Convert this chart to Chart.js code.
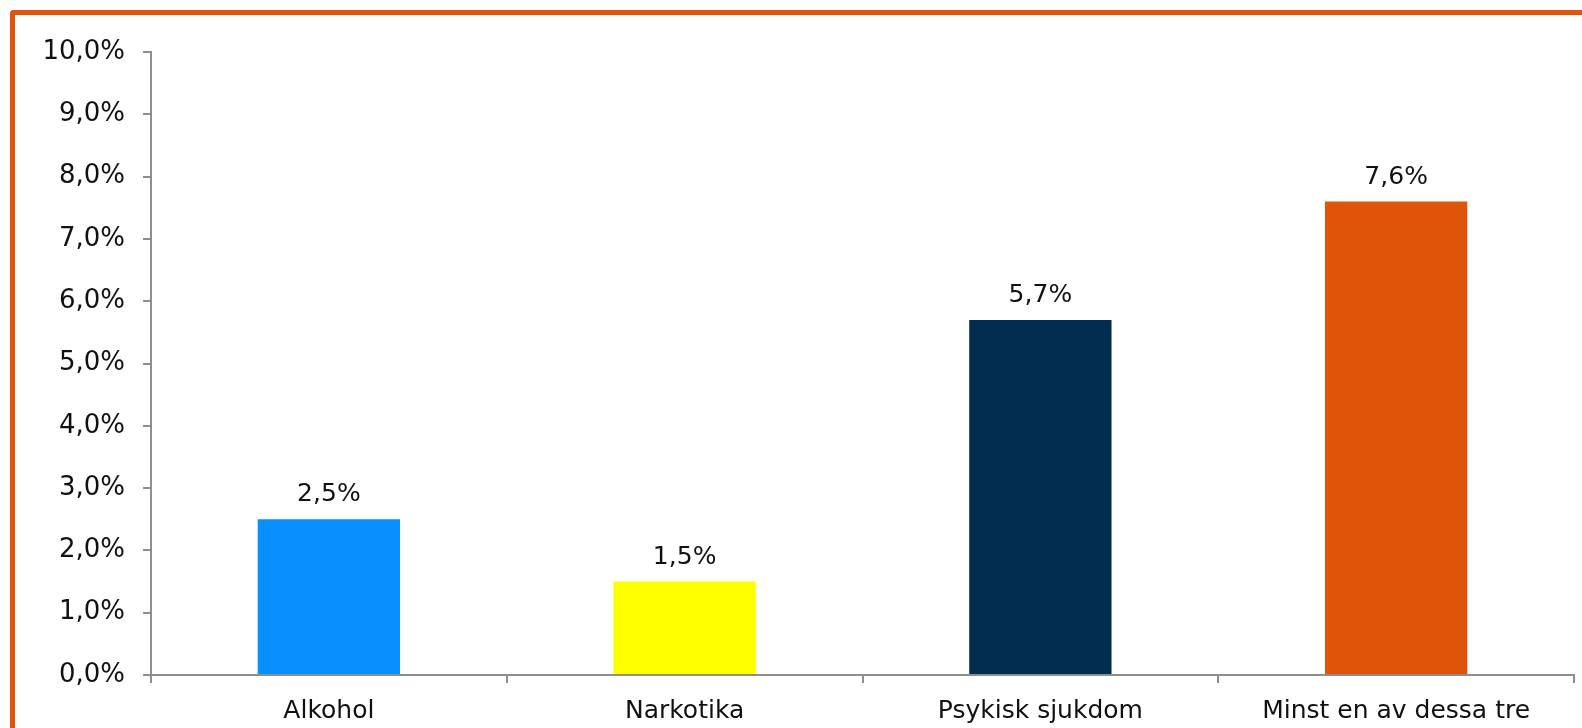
<!DOCTYPE html>
<html>
<head>
<meta charset="utf-8">
<script src="https://cdn.jsdelivr.net/npm/chart.js@4/dist/chart.umd.min.js"></script>
<style>
  html, body { margin: 0; padding: 0; background: #fff; overflow: hidden; }
  #wrap { position: relative; width: 1582px; height: 728px; }
  #frame { position: absolute; left: 10px; top: 10px; width: 1600px; height: 760px;
           border-left: 5px solid #E0540A; border-top: 5px solid #E0540A;
           border-top-left-radius: 4px; box-sizing: border-box; }
  canvas { position: absolute; left: 0; top: 0; }
</style>
</head>
<body>
<div id="wrap">
  <div id="frame"></div>
  <canvas id="c" width="1582" height="728"></canvas>
</div>
<script>
const categories = ["Alkohol", "Narkotika", "Psykisk sjukdom", "Minst en av dessa tre"];
const values = [2.5, 1.5, 5.7, 7.6];
const barColors = ["#098FFE", "#FFFF00", "#022C4F", "#E0540A"];
const yTicks = [0, 1, 2, 3, 4, 5, 6, 7, 8, 9, 10];

const fmt = v => v.toFixed(1).replace('.', ',') + '%';

const labelPlugin = {
  id: 'barLabels',
  afterDatasetsDraw(chart) {
    const ctx = chart.ctx;
    const meta = chart.getDatasetMeta(0);
    ctx.save();
    ctx.font = '25px "DejaVu Sans"';
    ctx.fillStyle = '#111';
    ctx.textAlign = 'center';
    ctx.textBaseline = 'alphabetic';
    meta.data.forEach((bar, i) => {
      ctx.fillText(fmt(values[i]), bar.x, bar.y - 18);
    });
    ctx.restore();
  }
};

new Chart(document.getElementById('c'), {
  type: 'bar',
  data: {
    labels: categories,
    datasets: [{
      data: values,
      backgroundColor: barColors,
      borderWidth: 0,
      barPercentage: 0.4,
      categoryPercentage: 1.0
    }]
  },
  options: {
    responsive: false,
    animation: false,
    devicePixelRatio: 1,
    layout: { padding: { left: 0, right: 8, top: 52, bottom: 0 } },
    plugins: { legend: { display: false }, tooltip: { enabled: false } },
    scales: {
      x: {
        afterFit: s => { s.height = 53; },
        grid: { display: true, drawOnChartArea: false, drawTicks: true, tickLength: 8, color: '#8E8E8E', lineWidth: 2, offset: true },
        border: { display: true, color: '#8E8E8E', width: 2 },
        ticks: { color: '#111', font: { family: 'DejaVu Sans', size: 25 }, padding: 13, maxRotation: 0, autoSkip: false }
      },
      y: {
        min: 0, max: 10,
        afterFit: s => { s.width = 151; },
        afterBuildTicks: s => { s.ticks = yTicks.map(v => ({ value: v })); },
        grid: { display: true, drawOnChartArea: false, drawTicks: true, tickLength: 8, color: '#8E8E8E', lineWidth: 2 },
        border: { display: true, color: '#8E8E8E', width: 2 },
        ticks: { color: '#111', font: { family: 'DejaVu Sans', size: 26 }, padding: 18, callback: v => fmt(v) }
      }
    }
  },
  plugins: [labelPlugin]
});
</script>
</body>
</html>
